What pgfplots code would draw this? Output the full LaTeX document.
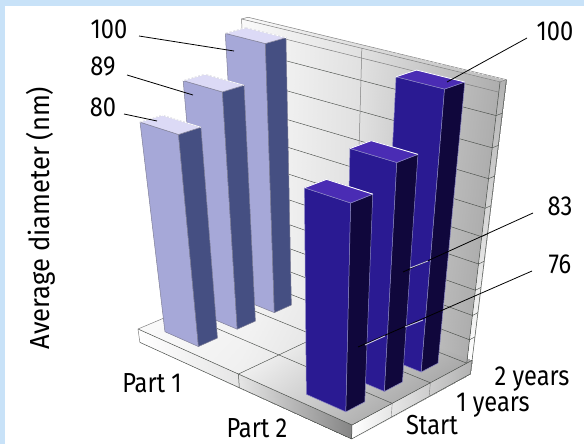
\documentclass[border=0pt]{standalone}
\usepackage{fontspec}
\setmainfont[FakeStretch=0.86]{Fira Sans}
\newfontfamily\axisfont[FakeStretch=0.93]{Fira Sans}
\usepackage{pgfplots}
\pgfplotsset{compat=1.18}

\definecolor{bandblue}{HTML}{C8E2F8}
\definecolor{lightfront}{HTML}{A6A8D8}
\definecolor{lightside}{HTML}{454F82}
\definecolor{lighttop}{HTML}{DCDAF6}
\definecolor{darkfront}{HTML}{2A1A92}
\definecolor{darkside}{HTML}{10073C}
\definecolor{darktop}{HTML}{4A2CB4}
\definecolor{rimlight}{HTML}{808098}
\definecolor{rimback}{HTML}{B4B4C4}
\definecolor{rimdark}{HTML}{8C88C4}
\definecolor{gridline}{HTML}{4A4E4A}

% Perspective projection of (u = part, v = time, h = value) onto the page
\newcommand\projx{{px(\thisrow{u},\thisrow{v},\thisrow{h})}}
\newcommand\projy{{py(\thisrow{u},\thisrow{v},\thisrow{h})}}

% A flat polygon with four corners, each given as "u v h"
\newcommand\facet[5]{%
  \addplot[#1] table[row sep=\\, x expr=\projx, y expr=\projy]
    {u v h\\ #2\\ #3\\ #4\\ #5\\ #2\\};}
% A quadrilateral with a grey value at each corner, given as "u v h grey"
\newcommand\shaded[4]{%
  \addplot[patch, patch type=rectangle, shader=interp, point meta=\thisrow{c}]
    table[row sep=\\, x expr=\projx, y expr=\projy]
    {u v h c\\ #1\\ #2\\ #3\\ #4\\};}
% A segment between two "u v h" points
\newcommand\seg[3]{%
  \addplot[#1] table[row sep=\\, x expr=\projx, y expr=\projy]
    {u v h\\ #2\\ #3\\};}

% One bar: u from, u to, v from, v to, value, front, side, top, edge colour
\newcommand\toprim{white}
\newcommand\columnbar[9]{%
  \facet{fill=#6, draw=#9, line width=0.5pt, line join=round}
    {#1 #3 0}{#2 #3 0}{#2 #3 #5}{#1 #3 #5}
  \facet{fill=#7, draw=#9, line width=0.5pt, line join=round}
    {#2 #3 0}{#2 #4 0}{#2 #4 #5}{#2 #3 #5}
  \facet{fill=#8, draw=#9, line width=0.5pt, line join=round}
    {#1 #3 #5}{#2 #3 #5}{#2 #4 #5}{#1 #4 #5}
  \addplot[\toprim, line width=0.8pt, line join=round]
    table[row sep=\\, x expr=\projx, y expr=\projy]
    {u v h\\ #1 #3 #5\\ #1 #4 #5\\ #2 #4 #5\\};
}

\begin{document}
\begin{tikzpicture}
\begin{axis}[
  scale only axis, width=584pt, height=444pt,
  xmin=0, xmax=584, ymin=0, ymax=444, y dir=reverse,
  hide axis, clip=true,
  colormap={greys}{gray(0)=(0); gray(1)=(1)},
  point meta min=0, point meta max=1,
  declare function={
    pw(\u,\v,\h)=1-0.0579*\u+0.0228*\v-0.001742*\h;
    px(\u,\v,\h)=(138+86.62*\u+44.46*\v-0.5540*\h)/pw(\u,\v,\h);
    py(\u,\v,\h)=(329+23.39*\u-9.94*\v-2.822*\h)/pw(\u,\v,\h);
  },
]
% Page ground and the tinted band along the top and left edges
\fill[white] (axis cs:0,0) rectangle (axis cs:584,444);
\fill[bandblue] (axis cs:0,0) rectangle (axis cs:584,6);
\fill[bandblue] (axis cs:0,0) rectangle (axis cs:5,444);

% Back wall, split at the middle of the part axis
\shaded{0 3 0 0.97}{1 3 0 0.88}{1 3 100 0.88}{0 3 100 0.98}
\shaded{1 3 0 0.88}{2 3 0 0.68}{2 3 100 0.68}{1 3 100 0.88}
% Wall top and end cap
\shaded{0 3 100 0.98}{2 3 100 0.74}{2 3.15 100 0.74}{0 3.15 100 0.98}
\shaded{2 3 0 1}{2 3.15 0 1}{2 3.15 100 0.70}{2 3 100 0.70}

% Floor plate with its two visible edges
\shaded{0 0 0 0.98}{1 0 0 0.94}{1 3.15 0 0.88}{0 3.15 0 0.96}
\shaded{1 0 0 0.94}{2 0 0 0.70}{2 3.15 0 0.66}{1 3.15 0 0.88}
\shaded{0 0 0 1}{1 0 0 0.90}{1 0 -6 0.90}{0 0 -6 1}
\shaded{1 0 0 0.90}{2 0 0 0.52}{2 0 -6 0.52}{1 0 -6 0.90}
\shaded{2 0 0 1}{2 3.15 0 0.70}{2 3.15 -6 0.70}{2 0 -6 1}

% Wall grid lines, every 10 units of height
\pgfplotsinvokeforeach{10,20,30,40,50,60,70,80,90}{%
  \seg{gridline, line width=0.45pt}{0 3 #1}{2 3 #1}
  \seg{gridline, line width=0.45pt}{2 3 #1}{2 3.15 #1}
}
\seg{gray, line width=0.5pt}{0 3 97}{2 3 97}
\seg{gray, line width=0.5pt}{1 3 0}{1 3 100}
\seg{gridline, line width=0.5pt}{2 3 0}{2 3 100}
\seg{gridline, line width=0.5pt}{2 3.15 0}{2 3.15 100}
\seg{gray, line width=0.5pt}{0 3 100}{2 3 100}
\seg{gray, line width=0.5pt}{0 3.15 100}{2 3.15 100}
\seg{gray, line width=0.5pt}{0 3 100}{0 3.15 100}
\seg{gray, line width=0.5pt}{2 3 100}{2 3.15 100}
\seg{gray, line width=0.5pt}{0 3 100}{0 3 97}

% Floor grid lines and plate outline
\seg{gridline, line width=0.45pt}{1 0 0}{1 3 0}
\seg{gridline, line width=0.45pt}{0 1 0}{2 1 0}
\seg{gridline, line width=0.45pt}{0 2 0}{2 2 0}
\seg{gridline, line width=0.45pt}{0 3 0}{2 3 0}
\seg{gray, line width=0.5pt}{0 0 0}{0 3 0}
\seg{gridline, line width=0.5pt}{0 0 0}{2 0 0}
\seg{gridline, line width=0.5pt}{2 0 0}{2 3.15 0}
\seg{gridline, line width=0.5pt}{0 0 -6}{2 0 -6}
\seg{gridline, line width=0.5pt}{2 0 -6}{2 3.15 -6}
\seg{gray, line width=0.5pt}{0 0 0}{0 0 -6}
\seg{gridline, line width=0.5pt}{1 0 0}{1 0 -6}
\seg{gridline, line width=0.5pt}{2 0 0}{2 0 -6}
\seg{gray, line width=0.4pt}{2 1 0}{2 1 -6}
\seg{gray, line width=0.4pt}{2 2 0}{2 2 -6}
\seg{gridline, line width=0.4pt}{2 3.15 0}{2 3.15 -6}

% Part 1: average diameter after 2 years, 1 year and at the start
\renewcommand\toprim{rimback}
\columnbar{0.17}{0.51}{2.20}{2.66}{100}{lightfront}{lightside}{lighttop}{rimlight}
\columnbar{0.17}{0.51}{1.23}{1.70}{89}{lightfront}{lightside}{lighttop}{rimlight}
\columnbar{0.17}{0.51}{0.26}{0.73}{80}{lightfront}{lightside}{lighttop}{rimlight}
% Part 2: the same three times
\renewcommand\toprim{white}
\columnbar{1.52}{1.86}{2.20}{2.66}{100}{darkfront}{darkside}{darktop}{rimdark}
\columnbar{1.52}{1.86}{1.23}{1.70}{83}{darkfront}{darkside}{darktop}{rimdark}
\columnbar{1.52}{1.86}{0.26}{0.73}{76}{darkfront}{darkside}{darktop}{rimdark}

% Leader lines from the value labels
\draw[black, line width=0.8pt] (axis cs:139,36) -- (axis cs:234,51);
\draw[black, line width=0.8pt] (axis cs:127,75) -- (axis cs:193,95);
\draw[black, line width=0.8pt] (axis cs:124,114) -- (axis cs:157,121);
\draw[black, line width=0.8pt] (axis cs:527,38) -- (axis cs:447,82);
\draw[black, line width=0.8pt] (axis cs:533,213) -- (axis cs:403,272);
\draw[black, line width=0.8pt] (axis cs:532,271) -- (axis cs:358,347);
\draw[rimdark!50!white, line width=0.9pt] (axis cs:410,268) -- (axis cs:428,261);
\draw[rimdark!50!white, line width=0.9pt] (axis cs:365,345) -- (axis cs:385,336);
\draw[rimdark!50!white, line width=0.9pt] (axis cs:405,327) -- (axis cs:423,320);

% Value, part and time labels
\tikzset{lab/.style={inner sep=0pt, text=black, font=\fontsize{27.5}{32}\selectfont}}
\node[lab] at (axis cs:109,29) {100};
\node[lab] at (axis cs:103,66) {89};
\node[lab] at (axis cs:103,107) {80};
\node[lab] at (axis cs:555,31) {100};
\node[lab] at (axis cs:560,206) {83};
\node[lab] at (axis cs:560,264) {76};
\node[lab] at (axis cs:152,383) {Part 1};
\node[lab] at (axis cs:257,428) {Part 2};
\node[lab] at (axis cs:432,425.5) {Start};
\node[lab] at (axis cs:493,405) {1 years};
\node[lab] at (axis cs:532,379) {2 years};
\node[lab, rotate=90] at (axis cs:41,218) {\axisfont Average diameter (nm)};
\end{axis}
\end{tikzpicture}
\end{document}
